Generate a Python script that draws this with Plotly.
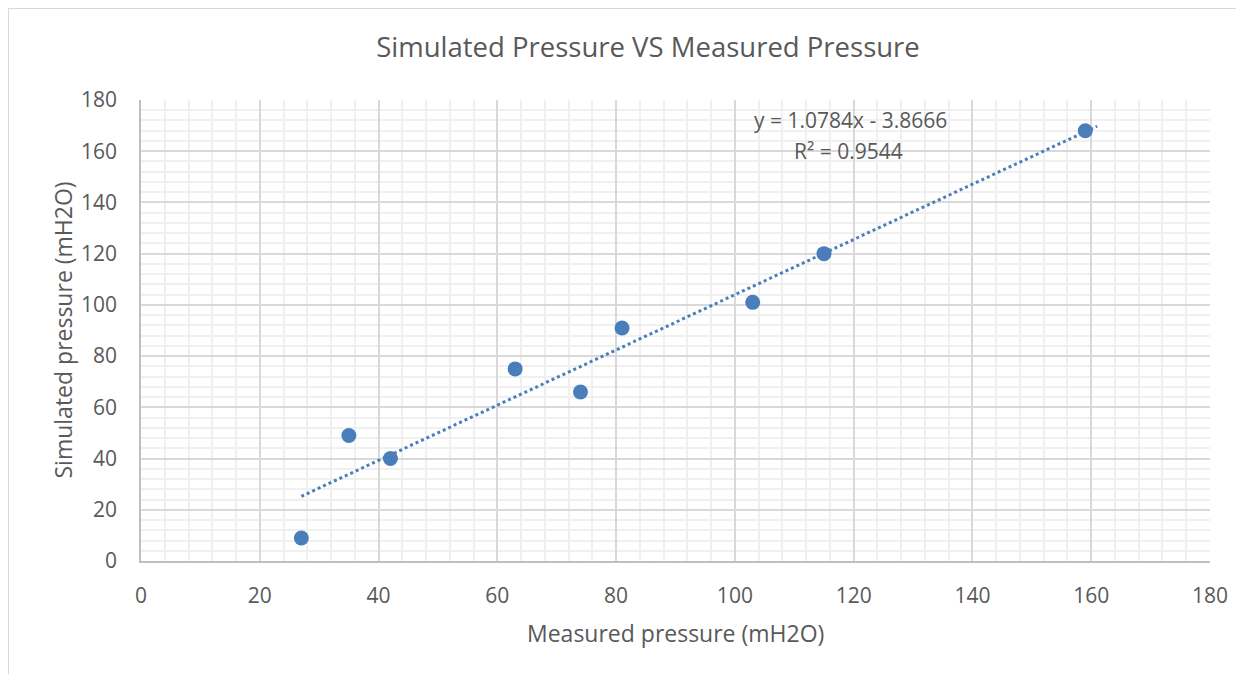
import plotly.graph_objects as go

measured = [27, 35, 42, 63, 74, 81, 103, 115, 159]
simulated = [9, 49, 40, 75, 66, 91, 101, 120, 168]
slope = 1.0784
intercept = -3.8666
r_squared = 0.9544
trend_x = [27, 161]
trend_y = [slope * x + intercept for x in trend_x]

FONT = "Open Sans"
TXT = "#595959"
BLUE = "#4a7ebb"

W, H = 1236, 666
L, T, R, B = 133, 92, 34, 113
PW, PH = W - L - R, H - T - B

fig = go.Figure()
fig.add_trace(go.Scatter(x=trend_x, y=trend_y, mode="lines",
                         line=dict(color=BLUE, width=3, dash="dot"),
                         showlegend=False, hoverinfo="skip"))
fig.add_trace(go.Scatter(x=measured, y=simulated, mode="markers",
                         marker=dict(color=BLUE, size=15),
                         showlegend=False))

eq1 = f"y = {slope}x - {abs(intercept)}"
eq2 = f"R² = {r_squared}"
fig.add_annotation(x=(842 - L) / PW, y=1 - 20 / PH, xref="paper", yref="paper",
                   text=eq1, showarrow=False, xanchor="center", yanchor="middle",
                   font=dict(family=FONT, size=21, color=TXT))
fig.add_annotation(x=(840 - L) / PW, y=1 - 51 / PH, xref="paper", yref="paper",
                   text=eq2, showarrow=False, xanchor="center", yanchor="middle",
                   font=dict(family=FONT, size=21, color=TXT))

# axis titles
fig.add_annotation(x=(667 - L) / PW, y=-72 / PH, xref="paper", yref="paper",
                   text="Measured pressure (mH2O)", showarrow=False, xanchor="center", yanchor="middle",
                   font=dict(family=FONT, size=23, color=TXT))
fig.add_annotation(x=(54 - L) / PW, y=0.5, xref="paper", yref="paper",
                   text="Simulated pressure (mH2O)", showarrow=False, xanchor="center", yanchor="middle",
                   textangle=-90, font=dict(family=FONT, size=23, color=TXT))

axis_common = dict(range=[0, 180], dtick=20, tick0=0, showgrid=True,
                   gridcolor="#d9d9d9", gridwidth=1.5, zeroline=False,
                   showline=True, linecolor="#bfbfbf", linewidth=1.5,
                   tickfont=dict(family=FONT, size=21, color=TXT),
                   minor=dict(dtick=4, showgrid=True, gridcolor="#f0f0f0", gridwidth=1.5))

fig.update_layout(
    width=W, height=H,
    margin=dict(l=L, r=R, t=T, b=B),
    paper_bgcolor="white", plot_bgcolor="white",
    title=dict(text="Simulated Pressure VS Measured Pressure", x=640 / W, xanchor="center",
               y=1 - 39 / H, yanchor="middle", yref="container", xref="container",
               font=dict(family=FONT, size=27.5, color=TXT)),
    xaxis=dict(**axis_common, ticklabelstandoff=15),
    yaxis=dict(**axis_common, ticklabelstandoff=18),
)

# outer chart border (left and top edges)
fig.add_shape(type="line", xref="paper", yref="paper", x0=-L / PW, x1=1 + R / PW, y0=1 + T / PH, y1=1 + T / PH,
              line=dict(color="#d9d9d9", width=2))
fig.add_shape(type="line", xref="paper", yref="paper", x0=-L / PW, x1=-L / PW, y0=-B / PH, y1=1 + T / PH,
              line=dict(color="#d9d9d9", width=2))

fig.write_html("out.html")
